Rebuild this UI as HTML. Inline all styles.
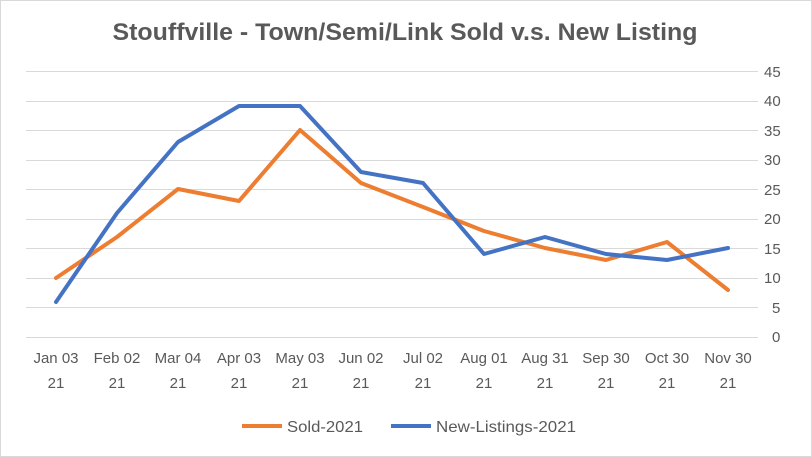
<!DOCTYPE html>
<html><head><meta charset="utf-8"><style>
html,body{margin:0;padding:0;background:#fff;}
svg{display:block;}
text{font-family:"Liberation Sans",Arial,sans-serif;fill:#595959;}
</style></head><body>
<svg width="812" height="457" viewBox="0 0 812 457" xmlns="http://www.w3.org/2000/svg">
<rect x="0.5" y="0.5" width="811" height="456" fill="#fff" stroke="#d9d9d9"/>
<text x="405" y="40" text-anchor="middle" font-size="24.5" font-weight="bold" textLength="585" lengthAdjust="spacingAndGlyphs">Stouffville - Town/Semi/Link Sold v.s. New Listing</text>
<g stroke="#d9d9d9" stroke-width="1">
<line x1="26" x2="758" y1="71.5" y2="71.5"/>
<line x1="26" x2="758" y1="101.5" y2="101.5"/>
<line x1="26" x2="758" y1="130.5" y2="130.5"/>
<line x1="26" x2="758" y1="160.5" y2="160.5"/>
<line x1="26" x2="758" y1="189.5" y2="189.5"/>
<line x1="26" x2="758" y1="219.5" y2="219.5"/>
<line x1="26" x2="758" y1="248.5" y2="248.5"/>
<line x1="26" x2="758" y1="278.5" y2="278.5"/>
<line x1="26" x2="758" y1="307.5" y2="307.5"/>
<line x1="26" x2="758" y1="337.5" y2="337.5"/>
</g>
<g font-size="15" text-anchor="start">
<text x="764" y="77">45</text><text x="764" y="106">40</text><text x="764" y="136">35</text>
<text x="764" y="165">30</text><text x="764" y="195">25</text><text x="764" y="224">20</text>
<text x="764" y="254">15</text><text x="764" y="283">10</text><text x="772" y="313">5</text>
<text x="772" y="342">0</text>
</g>
<g font-size="15" text-anchor="middle">
<text x="56" y="363">Jan 03</text><text x="56" y="388">21</text>
<text x="117" y="363">Feb 02</text><text x="117" y="388">21</text>
<text x="178" y="363">Mar 04</text><text x="178" y="388">21</text>
<text x="239" y="363">Apr 03</text><text x="239" y="388">21</text>
<text x="300" y="363">May 03</text><text x="300" y="388">21</text>
<text x="361" y="363">Jun 02</text><text x="361" y="388">21</text>
<text x="423" y="363">Jul 02</text><text x="423" y="388">21</text>
<text x="484" y="363">Aug 01</text><text x="484" y="388">21</text>
<text x="545" y="363">Aug 31</text><text x="545" y="388">21</text>
<text x="606" y="363">Sep 30</text><text x="606" y="388">21</text>
<text x="667" y="363">Oct 30</text><text x="667" y="388">21</text>
<text x="728" y="363">Nov 30</text><text x="728" y="388">21</text>
</g>
<polyline fill="none" stroke="#ed7d31" stroke-width="4" stroke-linejoin="round" stroke-linecap="round"
 points="56,278 117,237 178,189 239,201 300,130 361,183 423,207 484,231 545,248 606,260 667,242 728,290"/>
<polyline fill="none" stroke="#4472c4" stroke-width="4" stroke-linejoin="round" stroke-linecap="round"
 points="56,302 117,213 178,142 239,106 300,106 361,172 423,183 484,254 545,237 606,254 667,260 728,248"/>
<line x1="242" x2="282" y1="426" y2="426" stroke="#ed7d31" stroke-width="4"/>
<text x="287" y="432" font-size="16" textLength="76" lengthAdjust="spacingAndGlyphs">Sold-2021</text>
<line x1="391" x2="431" y1="426" y2="426" stroke="#4472c4" stroke-width="4"/>
<text x="436" y="432" font-size="16" textLength="140" lengthAdjust="spacingAndGlyphs">New-Listings-2021</text>
</svg>
</body></html>
